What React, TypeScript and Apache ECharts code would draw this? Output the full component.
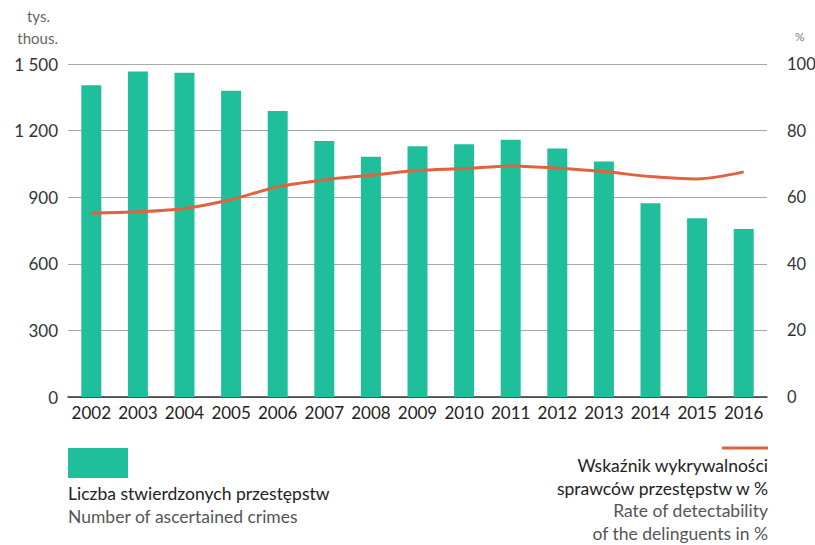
import React, { useEffect, useRef } from "react";
import * as echarts from "echarts";

const years = ["2002","2003","2004","2005","2006","2007","2008","2009","2010","2011","2012","2013","2014","2015","2016"];
const crimes = [1404, 1466, 1461, 1380, 1288, 1153, 1082, 1129, 1138, 1159, 1119, 1061, 873, 805, 757];
const detectability = [55.2, 55.6, 56.6, 59.3, 63.1, 65.2, 66.6, 68.0, 68.6, 69.4, 68.7, 67.7, 66.2, 65.5, 67.6];
const leftTicks = [0, 300, 600, 900, 1200, 1500];
const leftUnit = ["tys.", "thous."];
const rightUnit = "%";
const barLegend = ["Liczba stwierdzonych przestępstw", "Number of ascertained crimes"];
const lineLegend = ["Wskaźnik wykrywalności", "sprawców przestępstw w %", "Rate of detectability", "of the delinguents in %"];

const FONT = "Lato";
const TEAL = "#1fbf9b";
const ORANGE = "#e0623f";

export default function App() {
  const ref = useRef<HTMLDivElement>(null);
  useEffect(() => {
    if (!ref.current) return;
    const chart = echarts.init(ref.current, null, { renderer: "svg" });
    const fmt = (v: number) => (v >= 1000 ? String(v).replace(/(\d)(\d{3})$/, "$1 $2") : String(v));
    chart.setOption({
      animation: false,
      textStyle: { fontFamily: FONT },
      grid: { left: 68, right: 48, top: 64, bottom: 148, containLabel: false, outerBoundsMode: "none" },
      xAxis: {
        type: "category",
        data: years,
        axisTick: { show: false },
        axisLine: { lineStyle: { color: "#333", width: 1.5 } },
        axisLabel: { color: "#222", fontSize: 17, fontFamily: FONT, margin: 7, interval: 0, hideOverlap: false },
      },
      yAxis: [
        {
          type: "value",
          min: 0,
          max: leftTicks[leftTicks.length - 1],
          interval: 300,
          axisLine: { show: false },
          axisTick: { show: false },
          splitLine: { lineStyle: { color: "#a8a8a8", width: 1 } },
          axisLabel: { color: "#333", fontSize: 17, fontFamily: FONT, margin: 10, formatter: fmt },
        },
        {
          type: "value",
          min: 0,
          max: 100,
          interval: 20,
          position: "right",
          axisLine: { show: false },
          axisTick: { show: false },
          splitLine: { show: false },
          axisLabel: { color: "#333", fontSize: 16.5, fontFamily: FONT, margin: 20, align: "left" },
        },
      ],
      series: [
        {
          type: "bar",
          data: crimes,
          barWidth: 20,
          itemStyle: { color: TEAL },
          yAxisIndex: 0,
        },
        {
          type: "line",
          data: detectability,
          yAxisIndex: 1,
          smooth: 0.3,
          symbol: "none",
          lineStyle: { color: ORANGE, width: 3 },
        },
      ],
      graphic: [
        { type: "text", x: 50, y: 8, style: { text: leftUnit[0], fill: "#666", font: `15px "${FONT}"`, align: "right" } },
        { type: "text", x: 58, y: 30, style: { text: leftUnit[1], fill: "#666", font: `15px "${FONT}"`, align: "right" } },
        { type: "text", x: 795, y: 30, style: { text: rightUnit, fill: "#777", font: `12px "${FONT}"` } },
        { type: "rect", shape: { x: 68, y: 448, width: 60, height: 30 }, style: { fill: TEAL } },
        { type: "text", x: 68, y: 484, style: { text: barLegend[0], fill: "#222", font: `17.5px "${FONT}"` } },
        { type: "text", x: 68, y: 507, style: { text: barLegend[1], fill: "#555", font: `17.5px "${FONT}"` } },
        { type: "line", shape: { x1: 722, y1: 448, x2: 768, y2: 448 }, style: { stroke: ORANGE, lineWidth: 3 } },
        { type: "text", x: 768, y: 456, style: { text: lineLegend[0], fill: "#222", font: `17.5px "${FONT}"`, align: "right" } },
        { type: "text", x: 768, y: 479, style: { text: lineLegend[1], fill: "#222", font: `17.5px "${FONT}"`, align: "right" } },
        { type: "text", x: 768, y: 501, style: { text: lineLegend[2], fill: "#555", font: `17.5px "${FONT}"`, align: "right" } },
        { type: "text", x: 768, y: 524, style: { text: lineLegend[3], fill: "#555", font: `17.5px "${FONT}"`, align: "right" } },
      ],
    });
    return () => chart.dispose();
  }, []);
  return <div ref={ref} style={{ position: "fixed", left: 0, top: 0, width: 815, height: 545, background: "#fff" }} />;
}
